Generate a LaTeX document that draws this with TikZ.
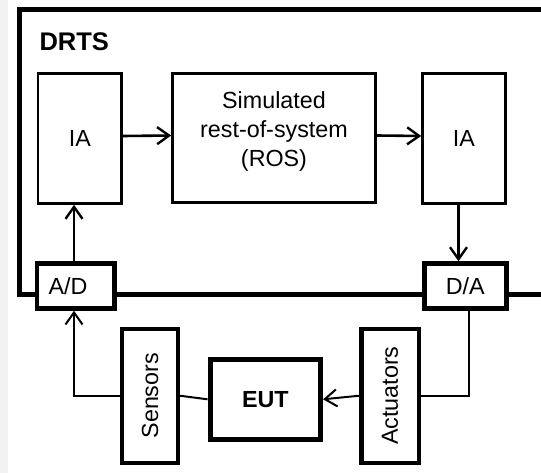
\documentclass[tikz,border=0pt]{standalone}
\usepackage{fontspec}
\setmainfont{Liberation Sans}
\usetikzlibrary{arrows.meta}

\tikzset{
  txt/.style={font=\fontsize{23.3}{29}\selectfont},
  blk/.style={draw, fill=white, line width=2.6pt, inner sep=0pt, align=center, txt},
  thk/.style={blk, line width=4.5pt},
  arr/.style={line width=2.6pt, -{Straight Barb[length=12pt,width=17pt,line width=2.4pt]}},
  wire/.style={line width=2pt},
  warr/.style={wire, -{Straight Barb[length=12pt,width=17pt,line width=2pt]}}
}

\begin{document}
\begin{tikzpicture}[x=1pt,y=-1pt]
  \useasboundingbox (0,0) rectangle (541,473);
  \fill[white] (0,0) rectangle (541,473);
  \fill[black!5] (0,0) rectangle (8,473);

  % DRTS enclosure, open to the right
  \draw[line width=5pt] (550,10) -- (19,10) -- (19,294.3) -- (550,294.3);
  \node[anchor=west, font=\fontsize{25.5}{29}\selectfont\bfseries] (drts) at (36,42) {DRTS};

  % simulator blocks
  \node[blk, minimum width=83.5, minimum height=130] (ia1) at (79.8,138.5) {IA};
  \node[blk, minimum width=203, minimum height=129,
        label={[txt, align=center, yshift=7pt]center:Simulated\\rest-of-system\\(ROS)}]
       (ros) at (274,138) {};
  \node[blk, minimum width=83, minimum height=130] (ia2) at (464,138.5) {IA};

  % converters on the boundary
  \node[thk, minimum width=77.5, minimum height=45] (ad) at (75.5,286)
       {\hspace*{-15pt}A/D};
  \node[thk, minimum width=82, minimum height=45] (da) at (465.3,286) {D/A};

  % equipment under test and its interfaces
  \node[thk, minimum width=55.8, minimum height=134] (sens) at (150,395.75)
       {\rotatebox{90}{Sensors}};
  \node[thk, line width=5pt, minimum width=110.5, minimum height=80.5,
        font=\fontsize{23.3}{29}\selectfont\bfseries] (eut) at (265.3,399.3) {EUT};
  \node[thk, minimum width=57.5, minimum height=134] (act) at (390,395.75)
       {\rotatebox{90}{Actuators}};

  % signal flow
  \draw[arr] ([xshift=-1.5pt]ad.north) -- ([xshift=-1.5pt]ad.north |- ia1.south);
  \draw[arr] ([yshift=2.5pt]ia1.east) -- ([yshift=2.5pt]ros.west);
  \draw[arr] ([yshift=2.5pt]ros.east) -- ([yshift=2.5pt]ia2.west);
  \draw[arr] ([xshift=-5.5pt]ia2.south) -- ([xshift=-5.5pt]ia2.south |- da.north);
  \draw[wire] ([xshift=3.7pt]da.south) |- (act.east);
  \draw[warr] (act.west) -- (eut.east);
  \draw[wire] (eut.west) -- (sens.east);
  \draw[warr] (sens.west) -| ([xshift=-1.5pt]ad.south);
\end{tikzpicture}
\end{document}
